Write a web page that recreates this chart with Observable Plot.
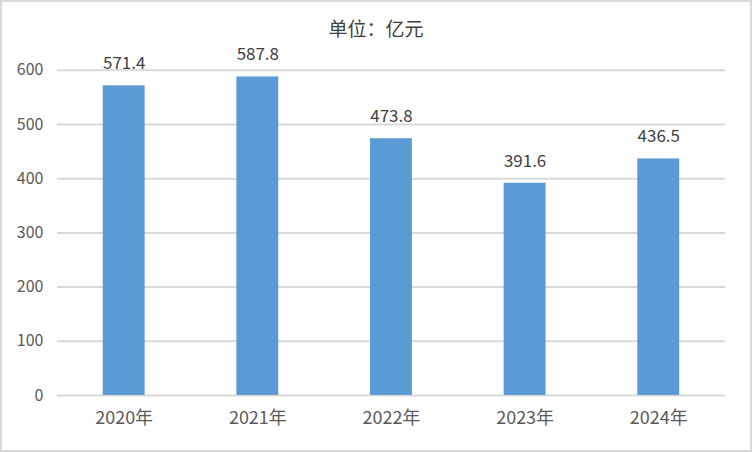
<!DOCTYPE html>
<html>
<head>
<meta charset="utf-8">
<script src="https://cdn.jsdelivr.net/npm/d3@7"></script>
<script src="https://cdn.jsdelivr.net/npm/@observablehq/plot@0.6"></script>
<style>
  html, body { margin: 0; padding: 0; background: #fff; }
  #wrap { position: relative; width: 752px; height: 452px; box-sizing: border-box; border: 2px solid #d9d9d9; overflow: hidden; }
  #title { position: absolute; left: 0; width: 748px; top: 12px; text-align: center; font: 19px "Noto Sans CJK SC", sans-serif; color: #404040; }
  #chart { position: absolute; left: -2px; top: -2px; }
</style>
</head>
<body>
<div id="wrap">
  <div id="chart"></div>
  <div id="title">单位：亿元</div>
</div>
<script>
const years = ["2020年", "2021年", "2022年", "2023年", "2024年"];
const values = [571.4, 587.8, 473.8, 391.6, 436.5];
const yTicks = [0, 100, 200, 300, 400, 500, 600];

const data = years.map((y, i) => ({year: y, value: values[i]}));
const font = '"Noto Sans CJK SC", sans-serif';

const chart = Plot.plot({
  width: 752,
  height: 452,
  marginTop: 70,
  marginBottom: 56,
  marginLeft: 57,
  marginRight: 25,
  style: {fontFamily: font, fontSize: "16px", color: "#595959", background: "transparent"},
  x: {domain: years, paddingInner: 0.69, paddingOuter: 0.345, label: null},
  y: {domain: [0, 600], ticks: yTicks, label: null},
  marks: [
    Plot.gridY(yTicks, {stroke: "#d9d9d9", strokeOpacity: 1, strokeWidth: 2}),
    Plot.barY(data, {x: "year", y: "value", fill: "#5b9bd5"}),
    Plot.text(data, {x: "year", y: "value", text: d => d.value.toFixed(1), dy: -22, fill: "#404040", fontSize: 17}),
    Plot.axisY(yTicks, {tickSize: 0, tickPadding: 14, fontSize: 16, fill: "#595959", label: null}),
    Plot.axisX({tickSize: 0, tickPadding: 16, fontSize: 18, fill: "#595959", label: null})
  ]
});
document.getElementById("chart").appendChild(chart);
</script>
</body>
</html>
